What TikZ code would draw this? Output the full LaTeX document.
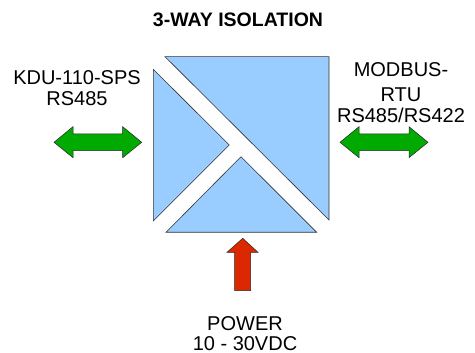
\documentclass[tikz,border=0pt]{standalone}
\usepackage{fontspec}
\setmainfont{Liberation Sans}
\usetikzlibrary{positioning}
\definecolor{isoblue}{HTML}{99CCFF}
\definecolor{linkgreen}{HTML}{00AA00}
\definecolor{powerred}{HTML}{DC2800}

\begin{document}
\begin{tikzpicture}[
    x=1pt, y=-1pt,
    every node/.style={font=\fontsize{20}{22}\selectfont, align=center, inner sep=0pt},
    part/.style={draw=black!80, line width=0.6pt, fill=isoblue, line join=miter},
    dataarrow/.style={draw=black!85, line width=0.5pt, fill=linkgreen},
    powerarrow/.style={draw=black!85, line width=0.5pt, fill=powerred}
  ]
    \useasboundingbox (0,0) rectangle (475,353);

    % the three isolated sections
    \draw[part] (165,56.7) -- (329,56.7) -- (329,220) -- cycle;
    \draw[part] (153.3,69.3) -- (229.3,145) -- (153.3,221) -- cycle;
    \draw[part] (166,232.3) -- (241,156.7) -- (316.7,232.3) -- cycle;

    % link arrows
    \draw[dataarrow] (54,142.3) -- (73,126.7) -- (73,134) -- (122.7,134) -- (122.7,126.7)
      -- (141.7,142.3) -- (122.7,157.7) -- (122.7,150.7) -- (73,150.7) -- (73,157.7) -- cycle;
    \draw[dataarrow] (340,142.3) -- (359,126.7) -- (359,134) -- (409,134) -- (409,126.7)
      -- (428,142.3) -- (409,157.7) -- (409,150.7) -- (359,150.7) -- (359,157.7) -- cycle;
    \draw[powerarrow] (242.7,238.3) -- (258,252.3) -- (250.5,252.3) -- (250.5,290.7)
      -- (234.5,290.7) -- (234.5,252.3) -- (227,252.3) -- cycle;

    \node[font=\fontsize{19.5}{22}\selectfont\bfseries] (title) at (238,20) {3-WAY ISOLATION};
    \node (kdu) at (77,88) {KDU-110-SPS\\[-0.3pt]RS485};
    \node (modbus) at (401,92.5) {MODBUS-\\[3pt]RTU\\[-1.5pt]RS485/RS422};
    \node (power) at (245,333.5) {POWER\\[-2.5pt]10 - 30VDC};
\end{tikzpicture}
\end{document}
